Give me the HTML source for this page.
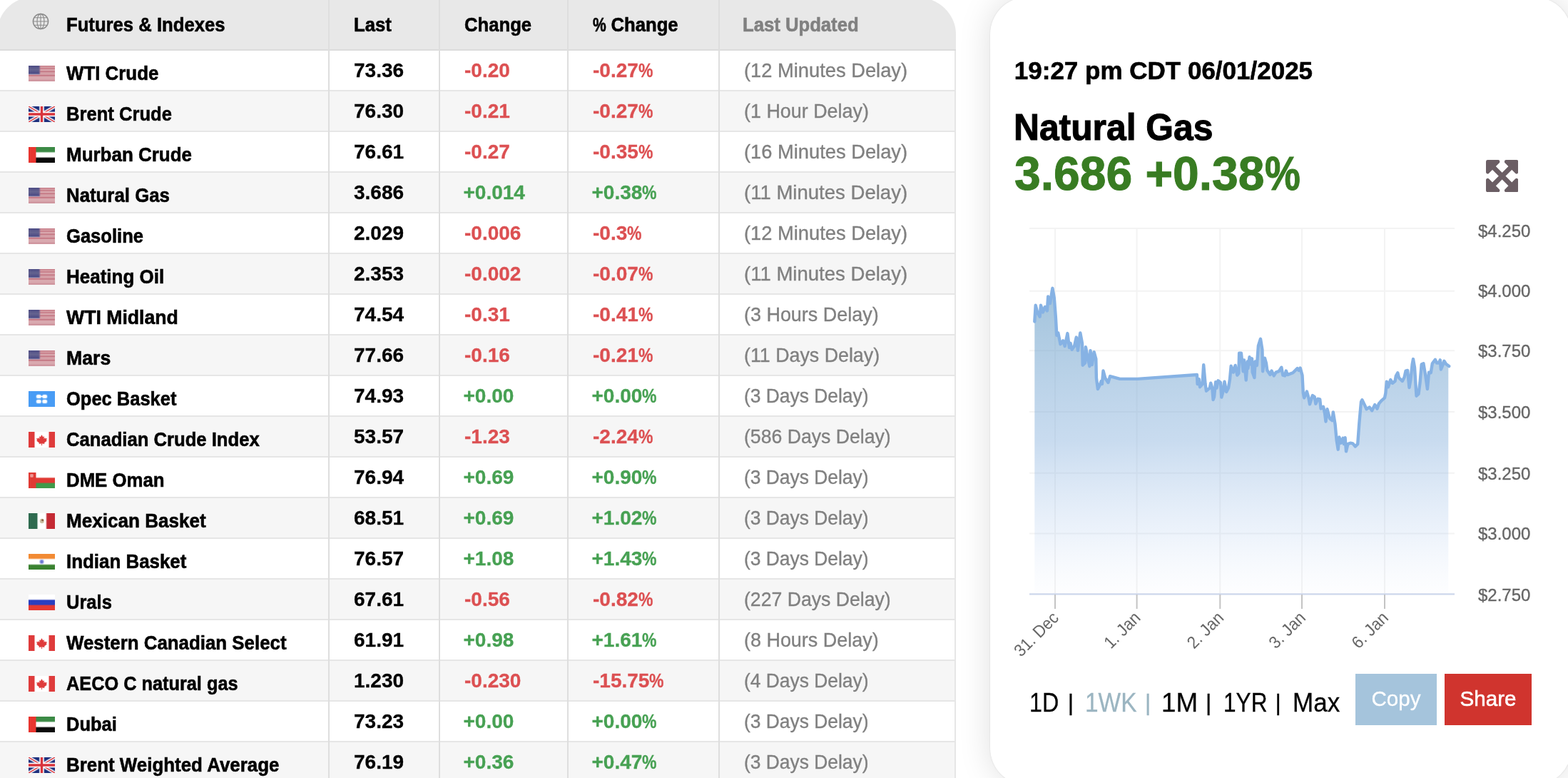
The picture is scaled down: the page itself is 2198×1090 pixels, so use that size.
<!DOCTYPE html>
<html lang="en"><head><meta charset="utf-8"><title>Futures &amp; Indexes</title>
<style>
html,body{margin:0;padding:0;background:#fff;}
body{width:2198px;height:1090px;overflow:hidden;position:relative;font-family:"Liberation Sans",sans-serif;color:#000;}
#tbl{position:absolute;left:-4px;top:-4px;width:1344px;height:1110px;border-radius:50px 55px 0 0 / 50px 52px 0 0;overflow:hidden;background:#fff;}
#tbl .in{position:absolute;left:4px;top:4px;width:1340px;height:1100px;}
.hd{position:absolute;left:-4px;top:-4px;width:1344px;height:73px;background:#e8e8e8;border-bottom:2px solid #dcdcdc;}
.r{position:absolute;left:0;width:1338px;height:55px;border-bottom:2px solid #e6e6e6;border-right:2px solid #e6e6e6;}
.r.e{background:#f6f6f6;}
.c{position:absolute;top:0;height:100%;white-space:nowrap;font-size:28px;font-weight:bold;line-height:55px;}
.vl{position:absolute;top:0;width:2px;height:1100px;background:#dedede;}
.t{display:inline-block;transform-origin:0 50%;transform:scaleX(.917);}
.nm{left:93px;top:4px;-webkit-text-stroke:.6px #000;}
.c1{left:496px;-webkit-text-stroke:.3px;}.c2{left:651px;-webkit-text-stroke:.3px;}.c3{left:831px;-webkit-text-stroke:.3px;}.c4{left:1043px;font-weight:normal;color:#808080;-webkit-text-stroke:.35px;}
.c4 .t{transform:scaleX(.962);}
.c2.pos{left:649.5px}.c3.pos{left:829.5px}.neg{color:#dc5052;}.pos{color:#47a153;}
.pc{display:inline-block;width:20px;transform-origin:0 50%;transform:scaleX(.82);}
.flag{position:absolute;left:40px;top:21px;display:block;}
.h{top:0;line-height:69px;-webkit-text-stroke:.6px;}
#panel{position:absolute;left:1387.5px;top:-4px;width:815px;height:1104px;border-radius:52px;background:#fff;box-shadow:0 0 2px rgba(0,0,0,.12),0 0 46px rgba(0,0,0,.13);}
.abs{position:absolute;white-space:nowrap;}
</style></head><body>

<svg width="0" height="0" style="position:absolute"><defs><linearGradient id="gaev" x1="0" y1="0" x2="0" y2="1"><stop offset="0.0000" stop-color="#3b8a45"/><stop offset="0.2864" stop-color="#3b8a45"/><stop offset="0.3773" stop-color="#ffffff"/><stop offset="0.6227" stop-color="#ffffff"/><stop offset="0.7136" stop-color="#0a0a0a"/><stop offset="1.0000" stop-color="#0a0a0a"/></linearGradient><linearGradient id="gaeh" x1="0" y1="0" x2="1" y2="0"><stop offset="0" stop-color="#e8352f"/><stop offset="0.2568" stop-color="#e8352f"/><stop offset="0.3108" stop-color="#e8352f" stop-opacity="0"/><stop offset="1" stop-color="#e8352f" stop-opacity="0"/></linearGradient><linearGradient id="gruv" x1="0" y1="0" x2="0" y2="1"><stop offset="0.0000" stop-color="#ffffff"/><stop offset="0.2864" stop-color="#ffffff"/><stop offset="0.3773" stop-color="#2a3fc0"/><stop offset="0.6227" stop-color="#2a3fc0"/><stop offset="0.7136" stop-color="#e63a32"/><stop offset="1.0000" stop-color="#e63a32"/></linearGradient><linearGradient id="ginv" x1="0" y1="0" x2="0" y2="1"><stop offset="0.0000" stop-color="#f28a33"/><stop offset="0.2727" stop-color="#f28a33"/><stop offset="0.3636" stop-color="#ffffff"/><stop offset="0.6364" stop-color="#ffffff"/><stop offset="0.7273" stop-color="#3a8230"/><stop offset="1.0000" stop-color="#3a8230"/></linearGradient><linearGradient id="gomv" x1="0" y1="0" x2="0" y2="1"><stop offset="0.0000" stop-color="#ffffff"/><stop offset="0.2864" stop-color="#ffffff"/><stop offset="0.3773" stop-color="#e03a34"/><stop offset="0.6227" stop-color="#e03a34"/><stop offset="0.7136" stop-color="#3f9a4a"/><stop offset="1.0000" stop-color="#3f9a4a"/></linearGradient><linearGradient id="gomh" x1="0" y1="0" x2="1" y2="0"><stop offset="0" stop-color="#e03a34"/><stop offset="0.2568" stop-color="#e03a34"/><stop offset="0.3108" stop-color="#e03a34" stop-opacity="0"/><stop offset="1" stop-color="#e03a34" stop-opacity="0"/></linearGradient><linearGradient id="gmxh" x1="0" y1="0" x2="1" y2="0"><stop offset="0.0000" stop-color="#2f6b50"/><stop offset="0.3108" stop-color="#2f6b50"/><stop offset="0.3649" stop-color="#ffffff"/><stop offset="0.6486" stop-color="#ffffff"/><stop offset="0.7027" stop-color="#c42a34"/><stop offset="1.0000" stop-color="#c42a34"/></linearGradient><linearGradient id="gcah" x1="0" y1="0" x2="1" y2="0"><stop offset="0.0000" stop-color="#df3b3b"/><stop offset="0.2027" stop-color="#df3b3b"/><stop offset="0.2568" stop-color="#ffffff"/><stop offset="0.7432" stop-color="#ffffff"/><stop offset="0.7973" stop-color="#df3b3b"/><stop offset="1.0000" stop-color="#df3b3b"/></linearGradient><linearGradient id="gusv" x1="0" y1="0" x2="0" y2="1"><stop offset="0.0000" stop-color="#c67a86"/><stop offset="0.0341" stop-color="#c67a86"/><stop offset="0.0750" stop-color="#d49aa1"/><stop offset="0.1341" stop-color="#d49aa1"/><stop offset="0.1750" stop-color="#c67a86"/><stop offset="0.1977" stop-color="#c67a86"/><stop offset="0.2386" stop-color="#d9a7ad"/><stop offset="0.3159" stop-color="#d9a7ad"/><stop offset="0.3568" stop-color="#c47884"/><stop offset="0.3977" stop-color="#c47884"/><stop offset="0.4386" stop-color="#d5a0a7"/><stop offset="0.5614" stop-color="#d5a0a7"/><stop offset="0.6023" stop-color="#c67a86"/><stop offset="0.6523" stop-color="#c67a86"/><stop offset="0.6932" stop-color="#d9a9af"/><stop offset="0.8614" stop-color="#d9a9af"/><stop offset="0.9023" stop-color="#d097a0"/><stop offset="1.0000" stop-color="#d097a0"/></linearGradient><linearGradient id="gusc" x1="0" y1="0" x2="0" y2="1"><stop offset="0" stop-color="#4d4c85"/><stop offset=".45" stop-color="#64638f"/><stop offset=".85" stop-color="#4d4c85"/><stop offset="1" stop-color="#8f93b8"/></linearGradient></defs></svg>
<div id="tbl"><div class="in">
<div class="hd"></div>
<svg class="abs" style="left:45px;top:18px" width="24" height="24" viewBox="0 0 24 24" fill="none" stroke="#8a8a8a" stroke-width="1.1"><circle cx="12" cy="12" r="10.6" stroke-width="1.5"/><ellipse cx="12" cy="12" rx="5" ry="10.6"/><path d="M12 1.4V22.6M1.4 12H22.6M2.8 6.8H21.2M2.8 17.2H21.2"/></svg>
<div class="c h" style="left:93px;top:0"><span class="t" id="h0">Futures &amp; Indexes</span></div>
<div class="c h c1"><span class="t" id="h1">Last</span></div>
<div class="c h c2"><span class="t" id="h2">Change</span></div>
<div class="c h c3"><span class="t" id="h3"><span class="pc">%</span> Change</span></div>
<div class="c h" style="left:1041px;top:0;color:#808080"><span class="t" id="h4">Last Updated</span></div>
<div class="r" style="top:71px"><svg class="flag" width="37" height="22" viewBox="0 0 37 22" preserveAspectRatio="none"><rect width="37" height="22" fill="url(#gusv)"/><rect width="15.6" height="12.4" fill="url(#gusc)"/><rect x="14.6" width="2" height="11.5" fill="#8a6f95" opacity=".55"/></svg><div class="c nm"><span class="t" style="transform:scaleX(0.9242)">WTI Crude</span></div><div class="c c1">73.36</div><div class="c c2 neg">-0.20</div><div class="c c3 neg">-0.27<span class="pc">%</span></div><div class="c c4"><span class="t" style="transform:scaleX(0.9748)">(12 Minutes Delay)</span></div></div>
<div class="r e" style="top:128px"><svg class="flag" width="37" height="22" viewBox="0 0 37 22" preserveAspectRatio="none"><rect width="37" height="22" fill="#1c2f7d"/><path d="M0 0L37 22M37 0L0 22" stroke="#fff" stroke-width="5.4" opacity=".45"/><path d="M0 0L37 22M37 0L0 22" stroke="#fff" stroke-width="3.6"/><path d="M0 0L37 22M37 0L0 22" stroke="#d8343c" stroke-width="1.5"/><path d="M18.5 0V22M0 11H37" stroke="#fff" stroke-width="7.4" opacity=".5"/><path d="M18.5 0V22M0 11H37" stroke="#fff" stroke-width="5.8"/><path d="M18.5 0V22M0 11H37" stroke="#d8343c" stroke-width="3.4"/></svg><div class="c nm"><span class="t" style="transform:scaleX(0.9145)">Brent Crude</span></div><div class="c c1">76.30</div><div class="c c2 neg">-0.21</div><div class="c c3 neg">-0.27<span class="pc">%</span></div><div class="c c4"><span class="t" style="transform:scaleX(0.9609)">(1 Hour Delay)</span></div></div>
<div class="r" style="top:185px"><svg class="flag" width="37" height="22" viewBox="0 0 37 22" preserveAspectRatio="none"><rect width="37" height="22" fill="url(#gaev)"/><rect width="37" height="22" fill="url(#gaeh)"/></svg><div class="c nm"><span class="t" style="transform:scaleX(0.9276)">Murban Crude</span></div><div class="c c1">76.61</div><div class="c c2 neg">-0.27</div><div class="c c3 neg">-0.35<span class="pc">%</span></div><div class="c c4"><span class="t" style="transform:scaleX(0.9748)">(16 Minutes Delay)</span></div></div>
<div class="r e" style="top:242px"><svg class="flag" width="37" height="22" viewBox="0 0 37 22" preserveAspectRatio="none"><rect width="37" height="22" fill="url(#gusv)"/><rect width="15.6" height="12.4" fill="url(#gusc)"/><rect x="14.6" width="2" height="11.5" fill="#8a6f95" opacity=".55"/></svg><div class="c nm"><span class="t" style="transform:scaleX(0.9221)">Natural Gas</span></div><div class="c c1">3.686</div><div class="c c2 pos">+0.014</div><div class="c c3 pos">+0.38<span class="pc">%</span></div><div class="c c4"><span class="t" style="transform:scaleX(0.9836)">(11 Minutes Delay)</span></div></div>
<div class="r" style="top:299px"><svg class="flag" width="37" height="22" viewBox="0 0 37 22" preserveAspectRatio="none"><rect width="37" height="22" fill="url(#gusv)"/><rect width="15.6" height="12.4" fill="url(#gusc)"/><rect x="14.6" width="2" height="11.5" fill="#8a6f95" opacity=".55"/></svg><div class="c nm"><span class="t" style="transform:scaleX(0.9136)">Gasoline</span></div><div class="c c1">2.029</div><div class="c c2 neg">-0.006</div><div class="c c3 neg">-0.3<span class="pc">%</span></div><div class="c c4"><span class="t" style="transform:scaleX(0.9748)">(12 Minutes Delay)</span></div></div>
<div class="r e" style="top:356px"><svg class="flag" width="37" height="22" viewBox="0 0 37 22" preserveAspectRatio="none"><rect width="37" height="22" fill="url(#gusv)"/><rect width="15.6" height="12.4" fill="url(#gusc)"/><rect x="14.6" width="2" height="11.5" fill="#8a6f95" opacity=".55"/></svg><div class="c nm"><span class="t" style="transform:scaleX(0.9280)">Heating Oil</span></div><div class="c c1">2.353</div><div class="c c2 neg">-0.002</div><div class="c c3 neg">-0.07<span class="pc">%</span></div><div class="c c4"><span class="t" style="transform:scaleX(0.9836)">(11 Minutes Delay)</span></div></div>
<div class="r" style="top:413px"><svg class="flag" width="37" height="22" viewBox="0 0 37 22" preserveAspectRatio="none"><rect width="37" height="22" fill="url(#gusv)"/><rect width="15.6" height="12.4" fill="url(#gusc)"/><rect x="14.6" width="2" height="11.5" fill="#8a6f95" opacity=".55"/></svg><div class="c nm"><span class="t" style="transform:scaleX(0.9512)">WTI Midland</span></div><div class="c c1">74.54</div><div class="c c2 neg">-0.31</div><div class="c c3 neg">-0.41<span class="pc">%</span></div><div class="c c4"><span class="t" style="transform:scaleX(0.9620)">(3 Hours Delay)</span></div></div>
<div class="r e" style="top:470px"><svg class="flag" width="37" height="22" viewBox="0 0 37 22" preserveAspectRatio="none"><rect width="37" height="22" fill="url(#gusv)"/><rect width="15.6" height="12.4" fill="url(#gusc)"/><rect x="14.6" width="2" height="11.5" fill="#8a6f95" opacity=".55"/></svg><div class="c nm"><span class="t" style="transform:scaleX(0.9515)">Mars</span></div><div class="c c1">77.66</div><div class="c c2 neg">-0.16</div><div class="c c3 neg">-0.21<span class="pc">%</span></div><div class="c c4"><span class="t" style="transform:scaleX(0.9569)">(11 Days Delay)</span></div></div>
<div class="r" style="top:527px"><svg class="flag" width="37" height="22" viewBox="0 0 37 22" preserveAspectRatio="none"><rect width="37" height="22" fill="#489cf5"/><g fill="#fff"><rect x="10.4" y="4.4" width="7.8" height="6.2" rx="2.6" opacity=".45"/><rect x="18.8" y="4.4" width="7.8" height="6.2" rx="2.6" opacity=".45"/><rect x="10.4" y="11.4" width="7.8" height="6.2" rx="2.6" opacity=".45"/><rect x="18.8" y="11.4" width="7.8" height="6.2" rx="2.6" opacity=".45"/><rect x="11.2" y="5.2" width="6.2" height="4.6" rx="2"/><rect x="19.6" y="5.2" width="6.2" height="4.6" rx="2"/><rect x="11.2" y="12.2" width="6.2" height="4.6" rx="2"/><rect x="19.6" y="12.2" width="6.2" height="4.6" rx="2"/><rect x="12" y="6.7" width="13" height="1.6"/></g></svg><div class="c nm"><span class="t" style="transform:scaleX(0.9100)">Opec Basket</span></div><div class="c c1">74.93</div><div class="c c2 pos">+0.00</div><div class="c c3 pos">+0.00<span class="pc">%</span></div><div class="c c4"><span class="t" style="transform:scaleX(0.9424)">(3 Days Delay)</span></div></div>
<div class="r e" style="top:584px"><svg class="flag" width="37" height="22" viewBox="0 0 37 22" preserveAspectRatio="none"><rect width="37" height="22" fill="url(#gcah)"/><path d="M18.5 4.5l1.6 2.8 1.7-.6-.6 3.4 2-1.6.5 1.2 2-.4-1 2.6.9.6-3.7 2.9.4 1.3-3.5-.5v2.8h-.6v-2.8l-3.5.5.4-1.3-3.7-2.9.9-.6-1-2.6 2 .4.5-1.2 2 1.6-.6-3.4 1.7.6z" fill="#df3b3b" stroke="#df3b3b" stroke-opacity=".35" stroke-width="1"/></svg><div class="c nm"><span class="t" style="transform:scaleX(0.9156)">Canadian Crude Index</span></div><div class="c c1">53.57</div><div class="c c2 neg">-1.23</div><div class="c c3 neg">-2.24<span class="pc">%</span></div><div class="c c4"><span class="t" style="transform:scaleX(0.9509)">(586 Days Delay)</span></div></div>
<div class="r" style="top:641px"><svg class="flag" width="37" height="22" viewBox="0 0 37 22" preserveAspectRatio="none"><rect width="37" height="22" fill="url(#gomv)"/><rect width="37" height="22" fill="url(#gomh)"/><rect x="2.3" y="2.3" width="4.4" height="4.4" rx="1" fill="#f3b0ae" opacity=".8"/></svg><div class="c nm"><span class="t" style="transform:scaleX(0.9211)">DME Oman</span></div><div class="c c1">76.94</div><div class="c c2 pos">+0.69</div><div class="c c3 pos">+0.90<span class="pc">%</span></div><div class="c c4"><span class="t" style="transform:scaleX(0.9424)">(3 Days Delay)</span></div></div>
<div class="r e" style="top:698px"><svg class="flag" width="37" height="22" viewBox="0 0 37 22" preserveAspectRatio="none"><rect width="37" height="22" fill="url(#gmxh)"/><ellipse cx="18.8" cy="11" rx="3" ry="3.2" fill="#a08a5a" opacity=".55"/><circle cx="19.6" cy="9.8" r="1.5" fill="#7a4a2a" opacity=".8"/></svg><div class="c nm"><span class="t" style="transform:scaleX(0.9313)">Mexican Basket</span></div><div class="c c1">68.51</div><div class="c c2 pos">+0.69</div><div class="c c3 pos">+1.02<span class="pc">%</span></div><div class="c c4"><span class="t" style="transform:scaleX(0.9424)">(3 Days Delay)</span></div></div>
<div class="r" style="top:755px"><svg class="flag" width="37" height="22" viewBox="0 0 37 22" preserveAspectRatio="none"><rect width="37" height="22" fill="url(#ginv)"/><circle cx="18.5" cy="11" r="3.4" fill="#7a86d8" opacity=".5"/><circle cx="18.5" cy="11" r="2.2" fill="#6a78d4"/></svg><div class="c nm"><span class="t" style="transform:scaleX(0.9247)">Indian Basket</span></div><div class="c c1">76.57</div><div class="c c2 pos">+1.08</div><div class="c c3 pos">+1.43<span class="pc">%</span></div><div class="c c4"><span class="t" style="transform:scaleX(0.9424)">(3 Days Delay)</span></div></div>
<div class="r e" style="top:812px"><svg class="flag" width="37" height="22" viewBox="0 0 37 22" preserveAspectRatio="none"><rect width="37" height="22" fill="url(#gruv)"/></svg><div class="c nm"><span class="t" style="transform:scaleX(0.9114)">Urals</span></div><div class="c c1">67.61</div><div class="c c2 neg">-0.56</div><div class="c c3 neg">-0.82<span class="pc">%</span></div><div class="c c4"><span class="t" style="transform:scaleX(0.9509)">(227 Days Delay)</span></div></div>
<div class="r" style="top:869px"><svg class="flag" width="37" height="22" viewBox="0 0 37 22" preserveAspectRatio="none"><rect width="37" height="22" fill="url(#gcah)"/><path d="M18.5 4.5l1.6 2.8 1.7-.6-.6 3.4 2-1.6.5 1.2 2-.4-1 2.6.9.6-3.7 2.9.4 1.3-3.5-.5v2.8h-.6v-2.8l-3.5.5.4-1.3-3.7-2.9.9-.6-1-2.6 2 .4.5-1.2 2 1.6-.6-3.4 1.7.6z" fill="#df3b3b" stroke="#df3b3b" stroke-opacity=".35" stroke-width="1"/></svg><div class="c nm"><span class="t" style="transform:scaleX(0.9236)">Western Canadian Select</span></div><div class="c c1">61.91</div><div class="c c2 pos">+0.98</div><div class="c c3 pos">+1.61<span class="pc">%</span></div><div class="c c4"><span class="t" style="transform:scaleX(0.9620)">(8 Hours Delay)</span></div></div>
<div class="r e" style="top:926px"><svg class="flag" width="37" height="22" viewBox="0 0 37 22" preserveAspectRatio="none"><rect width="37" height="22" fill="url(#gcah)"/><path d="M18.5 4.5l1.6 2.8 1.7-.6-.6 3.4 2-1.6.5 1.2 2-.4-1 2.6.9.6-3.7 2.9.4 1.3-3.5-.5v2.8h-.6v-2.8l-3.5.5.4-1.3-3.7-2.9.9-.6-1-2.6 2 .4.5-1.2 2 1.6-.6-3.4 1.7.6z" fill="#df3b3b" stroke="#df3b3b" stroke-opacity=".35" stroke-width="1"/></svg><div class="c nm"><span class="t" style="transform:scaleX(0.9042)">AECO C natural gas</span></div><div class="c c1">1.230</div><div class="c c2 neg">-0.230</div><div class="c c3 neg">-15.75<span class="pc">%</span></div><div class="c c4"><span class="t" style="transform:scaleX(0.9424)">(4 Days Delay)</span></div></div>
<div class="r" style="top:983px"><svg class="flag" width="37" height="22" viewBox="0 0 37 22" preserveAspectRatio="none"><rect width="37" height="22" fill="url(#gaev)"/><rect width="37" height="22" fill="url(#gaeh)"/></svg><div class="c nm"><span class="t" style="transform:scaleX(0.9093)">Dubai</span></div><div class="c c1">73.23</div><div class="c c2 pos">+0.00</div><div class="c c3 pos">+0.00<span class="pc">%</span></div><div class="c c4"><span class="t" style="transform:scaleX(0.9424)">(3 Days Delay)</span></div></div>
<div class="r e" style="top:1040px"><svg class="flag" width="37" height="22" viewBox="0 0 37 22" preserveAspectRatio="none"><rect width="37" height="22" fill="#1c2f7d"/><path d="M0 0L37 22M37 0L0 22" stroke="#fff" stroke-width="5.4" opacity=".45"/><path d="M0 0L37 22M37 0L0 22" stroke="#fff" stroke-width="3.6"/><path d="M0 0L37 22M37 0L0 22" stroke="#d8343c" stroke-width="1.5"/><path d="M18.5 0V22M0 11H37" stroke="#fff" stroke-width="7.4" opacity=".5"/><path d="M18.5 0V22M0 11H37" stroke="#fff" stroke-width="5.8"/><path d="M18.5 0V22M0 11H37" stroke="#d8343c" stroke-width="3.4"/></svg><div class="c nm"><span class="t" style="transform:scaleX(0.9251)">Brent Weighted Average</span></div><div class="c c1">76.19</div><div class="c c2 pos">+0.36</div><div class="c c3 pos">+0.47<span class="pc">%</span></div><div class="c c4"><span class="t" style="transform:scaleX(0.9424)">(3 Days Delay)</span></div></div>
<div class="vl" style="left:460px"></div>
<div class="vl" style="left:615px"></div>
<div class="vl" style="left:795px"></div>
<div class="vl" style="left:1007px"></div>
</div></div>
<div id="panel"></div>
<div class="abs" id="dt" style="left:1421.8px;top:78.5px;font-size:35px;font-weight:bold;line-height:40px;-webkit-text-stroke:.6px">19:27 pm CDT 06/01/2025</div>
<div class="abs" id="ng" style="left:1421px;top:148px;font-size:52.5px;font-weight:bold;line-height:60px;-webkit-text-stroke:1.1px"><span class="t" style="transform:scaleX(.948)">Natural Gas</span></div>
<div class="abs" id="pr" style="left:1422px;top:205px;font-size:66px;font-weight:bold;line-height:76px;color:#387c22;-webkit-text-stroke:1px #387c22">3.686 +0.38<span class="pc" style="width:50px;transform:scaleX(.85)">%</span></div>
<svg class="abs" style="left:2083px;top:224px" width="45.3" height="45.3" viewBox="0 0 448 448"><g fill="#6b5e64" stroke="#6b5e64" stroke-width="48" stroke-linejoin="round"><path d="M24 24L168 24L24 168Z"/><path d="M424 24L280 24L424 168Z"/><path d="M24 424L168 424L24 280Z"/><path d="M424 424L280 424L424 280Z"/><path d="M80 80L368 368M368 80L80 368" fill="none" stroke-width="67.7" stroke-linejoin="miter"/></g></svg>
<svg class="abs" style="left:0;top:0" width="2198" height="1090" viewBox="0 0 2198 1090" font-family="'Liberation Sans',sans-serif">
<defs><linearGradient id="ag" x1="0" y1="404" x2="0" y2="832" gradientUnits="userSpaceOnUse"><stop offset="0" stop-color="#6a9fc6" stop-opacity=".63"/><stop offset=".5" stop-color="#86b0dc" stop-opacity=".45"/><stop offset=".8" stop-color="#a3c2ea" stop-opacity=".2"/><stop offset="1" stop-color="#c5d6f5" stop-opacity=".03"/></linearGradient></defs>
<rect x="1443" y="319.0" width="596" height="2" fill="#f3f3f3"/>
<rect x="1443" y="406.7" width="596" height="2" fill="#f3f3f3"/>
<rect x="1443" y="490.3" width="596" height="2" fill="#f3f3f3"/>
<rect x="1443" y="576.0" width="596" height="2" fill="#f3f3f3"/>
<rect x="1443" y="661.7" width="596" height="2" fill="#f3f3f3"/>
<rect x="1443" y="746.5" width="596" height="2" fill="#f3f3f3"/>
<rect x="1478.0" y="320" width="2" height="512" fill="#f3f3f3"/>
<rect x="1592.6" y="320" width="2" height="512" fill="#f3f3f3"/>
<rect x="1709.3" y="320" width="2" height="512" fill="#f3f3f3"/>
<rect x="1824.0" y="320" width="2" height="512" fill="#f3f3f3"/>
<rect x="1940.0" y="320" width="2" height="512" fill="#f3f3f3"/>
<path d="M1450.3 450.5 L1451.7 427.8 L1454.4 438.2 L1457.6 443.7 L1459.0 427.8 L1462.0 437.5 L1464.8 429.9 L1467.9 435.4 L1469.2 415.5 L1471.9 425.1 L1475.4 403.8 L1477.8 417.5 L1479.9 445.0 L1481.3 469.8 L1483.3 466.4 L1486.5 482.2 L1490.2 477.4 L1492.7 485.0 L1496.4 467.1 L1498.9 487.0 L1500.5 480.8 L1502.6 489.8 L1506.0 485.0 L1508.8 472.6 L1510.9 491.1 L1514.3 466.4 L1517.0 480.8 L1517.7 511.8 L1521.2 508.3 L1521.9 486.3 L1524.6 500.1 L1527.4 513.2 L1528.5 491.1 L1530.8 511.1 L1533.6 493.2 L1536.3 502.8 L1536.9 529.8 L1538.9 545.0 L1541.7 539.4 L1543.8 533.9 L1544.9 538.0 L1546.5 519.5 L1549.3 529.8 L1553.4 536.0 L1556.1 527.1 L1569.9 530.9 L1594.7 530.9 L1677.9 525.0 L1678.6 538.1 L1680.7 531.2 L1682.1 542.2 L1685.5 538.1 L1687.2 511.2 L1689.6 538.1 L1691.0 547.7 L1695.8 543.6 L1697.2 536.7 L1699.3 543.6 L1700.6 560.1 L1702.0 556.0 L1704.1 535.3 L1705.5 543.6 L1707.5 533.3 L1711.0 536.0 L1712.3 556.6 L1715.1 546.3 L1716.5 534.6 L1719.2 549.1 L1722.0 543.6 L1724.0 531.2 L1725.7 512.6 L1728.8 521.6 L1731.6 511.9 L1734.3 525.7 L1736.4 522.9 L1737.1 494.7 L1739.9 494.7 L1742.6 520.2 L1744.0 504.4 L1746.7 532.6 L1748.8 506.4 L1749.5 516.1 L1751.5 500.2 L1753.6 510.5 L1755.0 502.3 L1755.7 521.6 L1758.4 529.1 L1759.5 506.4 L1761.9 511.9 L1763.9 484.4 L1767.0 474.8 L1769.4 489.9 L1770.1 520.2 L1772.9 501.6 L1775.0 509.2 L1776.3 518.8 L1780.5 525.0 L1782.5 519.5 L1785.7 526.4 L1788.7 521.6 L1792.8 520.2 L1796.3 514.7 L1798.3 525.7 L1801.1 526.4 L1802.8 519.6 L1804.8 525.1 L1812.4 522.3 L1818.6 516.1 L1820.6 518.9 L1822.7 515.5 L1825.5 525.8 L1826.8 550.5 L1828.2 557.4 L1831.9 548.5 L1834.4 557.4 L1836.0 566.4 L1839.9 554.0 L1842.7 556.0 L1844.3 565.7 L1847.5 558.8 L1850.2 559.5 L1851.6 572.6 L1855.0 569.8 L1857.1 579.4 L1858.5 590.5 L1860.5 573.3 L1864.0 586.3 L1867.4 589.1 L1868.8 577.4 L1871.6 594.6 L1873.6 616.6 L1875.7 629.7 L1877.3 612.5 L1879.8 620.7 L1882.6 613.8 L1883.9 622.1 L1885.6 613.2 L1887.0 632.4 L1889.4 622.1 L1892.9 620.7 L1896.3 621.4 L1899.8 625.5 L1903.2 622.1 L1905.3 593.2 L1908.0 562.9 L1909.4 560.2 L1912.8 567.1 L1915.6 573.3 L1919.7 570.5 L1923.2 575.3 L1927.3 567.1 L1930.5 572.6 L1932.8 565.7 L1936.2 561.6 L1941.0 557.4 L1942.4 550.5 L1943.8 534.7 L1945.9 542.3 L1949.3 532.0 L1952.1 536.8 L1955.5 534.0 L1956.9 526.5 L1959.3 522.3 L1961.0 529.2 L1965.8 534.0 L1968.6 528.5 L1970.6 519.6 L1973.1 518.9 L1975.5 543.0 L1977.5 531.3 L1979.6 510.6 L1981.0 503.1 L1983.0 514.8 L1985.5 554.7 L1988.5 551.9 L1990.6 535.4 L1992.7 510.6 L1995.4 509.3 L1998.2 525.8 L2000.9 545.0 L2003.0 521.6 L2005.7 522.3 L2007.8 509.3 L2011.9 503.8 L2014.0 508.6 L2016.7 508.6 L2018.8 504.4 L2019.9 517.5 L2022.2 512.0 L2024.3 505.8 L2027.0 510.0 L2031.2 513.1 L2030.3 513.1 L2030.3 832 L1450.3 832 Z" fill="url(#ag)"/>
<path d="M1450.3 450.5 L1451.7 427.8 L1454.4 438.2 L1457.6 443.7 L1459.0 427.8 L1462.0 437.5 L1464.8 429.9 L1467.9 435.4 L1469.2 415.5 L1471.9 425.1 L1475.4 403.8 L1477.8 417.5 L1479.9 445.0 L1481.3 469.8 L1483.3 466.4 L1486.5 482.2 L1490.2 477.4 L1492.7 485.0 L1496.4 467.1 L1498.9 487.0 L1500.5 480.8 L1502.6 489.8 L1506.0 485.0 L1508.8 472.6 L1510.9 491.1 L1514.3 466.4 L1517.0 480.8 L1517.7 511.8 L1521.2 508.3 L1521.9 486.3 L1524.6 500.1 L1527.4 513.2 L1528.5 491.1 L1530.8 511.1 L1533.6 493.2 L1536.3 502.8 L1536.9 529.8 L1538.9 545.0 L1541.7 539.4 L1543.8 533.9 L1544.9 538.0 L1546.5 519.5 L1549.3 529.8 L1553.4 536.0 L1556.1 527.1 L1569.9 530.9 L1594.7 530.9 L1677.9 525.0 L1678.6 538.1 L1680.7 531.2 L1682.1 542.2 L1685.5 538.1 L1687.2 511.2 L1689.6 538.1 L1691.0 547.7 L1695.8 543.6 L1697.2 536.7 L1699.3 543.6 L1700.6 560.1 L1702.0 556.0 L1704.1 535.3 L1705.5 543.6 L1707.5 533.3 L1711.0 536.0 L1712.3 556.6 L1715.1 546.3 L1716.5 534.6 L1719.2 549.1 L1722.0 543.6 L1724.0 531.2 L1725.7 512.6 L1728.8 521.6 L1731.6 511.9 L1734.3 525.7 L1736.4 522.9 L1737.1 494.7 L1739.9 494.7 L1742.6 520.2 L1744.0 504.4 L1746.7 532.6 L1748.8 506.4 L1749.5 516.1 L1751.5 500.2 L1753.6 510.5 L1755.0 502.3 L1755.7 521.6 L1758.4 529.1 L1759.5 506.4 L1761.9 511.9 L1763.9 484.4 L1767.0 474.8 L1769.4 489.9 L1770.1 520.2 L1772.9 501.6 L1775.0 509.2 L1776.3 518.8 L1780.5 525.0 L1782.5 519.5 L1785.7 526.4 L1788.7 521.6 L1792.8 520.2 L1796.3 514.7 L1798.3 525.7 L1801.1 526.4 L1802.8 519.6 L1804.8 525.1 L1812.4 522.3 L1818.6 516.1 L1820.6 518.9 L1822.7 515.5 L1825.5 525.8 L1826.8 550.5 L1828.2 557.4 L1831.9 548.5 L1834.4 557.4 L1836.0 566.4 L1839.9 554.0 L1842.7 556.0 L1844.3 565.7 L1847.5 558.8 L1850.2 559.5 L1851.6 572.6 L1855.0 569.8 L1857.1 579.4 L1858.5 590.5 L1860.5 573.3 L1864.0 586.3 L1867.4 589.1 L1868.8 577.4 L1871.6 594.6 L1873.6 616.6 L1875.7 629.7 L1877.3 612.5 L1879.8 620.7 L1882.6 613.8 L1883.9 622.1 L1885.6 613.2 L1887.0 632.4 L1889.4 622.1 L1892.9 620.7 L1896.3 621.4 L1899.8 625.5 L1903.2 622.1 L1905.3 593.2 L1908.0 562.9 L1909.4 560.2 L1912.8 567.1 L1915.6 573.3 L1919.7 570.5 L1923.2 575.3 L1927.3 567.1 L1930.5 572.6 L1932.8 565.7 L1936.2 561.6 L1941.0 557.4 L1942.4 550.5 L1943.8 534.7 L1945.9 542.3 L1949.3 532.0 L1952.1 536.8 L1955.5 534.0 L1956.9 526.5 L1959.3 522.3 L1961.0 529.2 L1965.8 534.0 L1968.6 528.5 L1970.6 519.6 L1973.1 518.9 L1975.5 543.0 L1977.5 531.3 L1979.6 510.6 L1981.0 503.1 L1983.0 514.8 L1985.5 554.7 L1988.5 551.9 L1990.6 535.4 L1992.7 510.6 L1995.4 509.3 L1998.2 525.8 L2000.9 545.0 L2003.0 521.6 L2005.7 522.3 L2007.8 509.3 L2011.9 503.8 L2014.0 508.6 L2016.7 508.6 L2018.8 504.4 L2019.9 517.5 L2022.2 512.0 L2024.3 505.8 L2027.0 510.0 L2031.2 513.1" fill="none" stroke="#86b2e4" stroke-width="4.4" stroke-linejoin="round" stroke-linecap="round"/>
<rect x="1443" y="831.3" width="596" height="2.2" fill="#ccd6eb"/>
<rect x="1478.0" y="833" width="2" height="20" fill="#c4c4c4"/>
<rect x="1592.6" y="833" width="2" height="20" fill="#c4c4c4"/>
<rect x="1709.3" y="833" width="2" height="20" fill="#c4c4c4"/>
<rect x="1824.0" y="833" width="2" height="20" fill="#c4c4c4"/>
<rect x="1940.0" y="833" width="2" height="20" fill="#c4c4c4"/>
<text x="2072" y="331.7" font-size="24" fill="#666" stroke="#666" stroke-width=".35">$4.250</text>
<text x="2072" y="415.8" font-size="24" fill="#666" stroke="#666" stroke-width=".35">$4.000</text>
<text x="2072" y="500.3" font-size="24" fill="#666" stroke="#666" stroke-width=".35">$3.750</text>
<text x="2072" y="586.2" font-size="24" fill="#666" stroke="#666" stroke-width=".35">$3.500</text>
<text x="2072" y="671.7" font-size="24" fill="#666" stroke="#666" stroke-width=".35">$3.250</text>
<text x="2072" y="756.3" font-size="24" fill="#666" stroke="#666" stroke-width=".35">$3.000</text>
<text x="2072" y="841.7" font-size="24" fill="#666" stroke="#666" stroke-width=".35">$2.750</text>
<text transform="translate(1485.5 867) rotate(-45) scale(.93 1)" text-anchor="end" font-size="24" fill="#666">31. Dec</text>
<text transform="translate(1600.1 867) rotate(-45) scale(.93 1)" text-anchor="end" font-size="24" fill="#666">1. Jan</text>
<text transform="translate(1716.8 867) rotate(-45) scale(.93 1)" text-anchor="end" font-size="24" fill="#666">2. Jan</text>
<text transform="translate(1831.5 867) rotate(-45) scale(.93 1)" text-anchor="end" font-size="24" fill="#666">3. Jan</text>
<text transform="translate(1947.5 867) rotate(-45) scale(.93 1)" text-anchor="end" font-size="24" fill="#666">6. Jan</text>
</svg>
<style>.ct{top:964px;font-size:36px;line-height:42px}.ct .t{transform-origin:0 50%}.btn{top:944px;height:72px;line-height:70px;color:#fff;font-size:30px;text-align:center}</style>
<div class="abs ct" style="left:1443.2px;color:#000;-webkit-text-stroke:.3px"><span class="t" style="transform:scaleX(0.8949)">1D</span></div>
<div class="abs ct" style="left:1496.7px;color:#000;-webkit-text-stroke:.3px;font-size:32px;top:962.5px"><span class="t" style="transform:scaleX(1.0000)">|</span></div>
<div class="abs ct" style="left:1521.1px;color:#9bb5c1;-webkit-text-stroke:.3px"><span class="t" style="transform:scaleX(0.9289)">1WK</span></div>
<div class="abs ct" style="left:1604.9px;color:#9bb5c1;-webkit-text-stroke:.3px;font-size:32px;top:962.5px"><span class="t" style="transform:scaleX(1.0000)">|</span></div>
<div class="abs ct" style="left:1628.0px;color:#000;-webkit-text-stroke:.3px"><span class="t" style="transform:scaleX(1.0213)">1M</span></div>
<div class="abs ct" style="left:1690.1px;color:#000;-webkit-text-stroke:.3px;font-size:32px;top:962.5px"><span class="t" style="transform:scaleX(1.0000)">|</span></div>
<div class="abs ct" style="left:1714.7px;color:#000;-webkit-text-stroke:.3px"><span class="t" style="transform:scaleX(0.8772)">1YR</span></div>
<div class="abs ct" style="left:1787.4px;color:#000;-webkit-text-stroke:.3px;font-size:32px;top:962.5px"><span class="t" style="transform:scaleX(1.0000)">|</span></div>
<div class="abs ct" style="left:1811.9px;color:#000;-webkit-text-stroke:.3px"><span class="t" style="transform:scaleX(0.9726)">Max</span></div>
<div class="abs btn" style="left:1900px;width:114px;background:#a5c4dc"><span class="t" style="transform-origin:50% 50%;transform:scaleX(.985);-webkit-text-stroke:.3px #fff">Copy</span></div>
<div class="abs btn" style="left:2025px;width:122px;background:#d0342e"><span class="t" style="transform-origin:50% 50%;transform:scaleX(.985);-webkit-text-stroke:.6px #fff">Share</span></div>
</body></html>
